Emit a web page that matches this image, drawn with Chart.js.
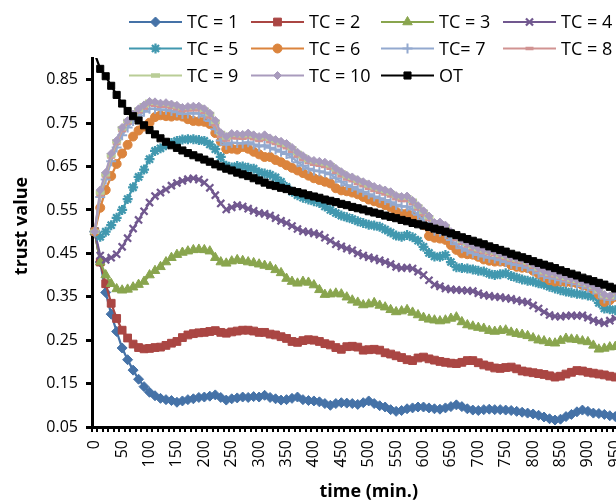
<!DOCTYPE html>
<html>
<head>
<meta charset="utf-8">
<script src="https://cdn.jsdelivr.net/npm/chart.js@4.4.1/dist/chart.umd.min.js"></script>
<style>
  html, body { margin: 0; padding: 0; background: #fff; }
  #wrap { width: 616px; height: 503px; overflow: hidden; position: relative; }
  canvas { display: block; }
</style>
</head>
<body>
<div id="wrap"><canvas id="trust" width="670" height="503"></canvas></div>
<script>
// time axis, one category every 10 min
const times = [
  0, 10, 20, 30, 40, 50, 60, 70, 80, 90,
  100, 110, 120, 130, 140, 150, 160, 170, 180, 190,
  200, 210, 220, 230, 240, 250, 260, 270, 280, 290,
  300, 310, 320, 330, 340, 350, 360, 370, 380, 390,
  400, 410, 420, 430, 440, 450, 460, 470, 480, 490,
  500, 510, 520, 530, 540, 550, 560, 570, 580, 590,
  600, 610, 620, 630, 640, 650, 660, 670, 680, 690,
  700, 710, 720, 730, 740, 750, 760, 770, 780, 790,
  800, 810, 820, 830, 840, 850, 860, 870, 880, 890,
  900, 910, 920, 930, 940, 950, 960, 970, 980, 990,
  1000
];
const yTicks = [0.05, 0.15, 0.25, 0.35, 0.45, 0.55, 0.65, 0.75, 0.85];

const tc1 = [
  0.50, 0.43, 0.36, 0.31, 0.27, 0.232, 0.205, 0.181, 0.16, 0.143,
  0.130, 0.122, 0.116, 0.113, 0.111, 0.107, 0.110, 0.113, 0.115, 0.118,
  0.119, 0.121, 0.124, 0.118, 0.112, 0.115, 0.117, 0.119, 0.118, 0.120,
  0.119, 0.123, 0.118, 0.115, 0.112, 0.113, 0.116, 0.119, 0.113, 0.111,
  0.110, 0.108, 0.104, 0.100, 0.104, 0.106, 0.105, 0.104, 0.102, 0.106,
  0.110, 0.104, 0.099, 0.096, 0.090, 0.086, 0.088, 0.092, 0.094, 0.096,
  0.096, 0.094, 0.092, 0.091, 0.094, 0.097, 0.101, 0.097, 0.092, 0.089,
  0.088, 0.090, 0.091, 0.090, 0.090, 0.089, 0.088, 0.086, 0.084, 0.082,
  0.080, 0.077, 0.073, 0.069, 0.066, 0.068, 0.074, 0.079, 0.085, 0.089,
  0.086, 0.082, 0.081, 0.079, 0.076, 0.074, 0.073, 0.075, 0.074, 0.072,
  0.071
];
const tc2 = [
  0.50, 0.43, 0.38, 0.335, 0.30, 0.273, 0.255, 0.241, 0.233, 0.230,
  0.231, 0.233, 0.234, 0.238, 0.243, 0.247, 0.256, 0.262, 0.265, 0.267,
  0.268, 0.270, 0.272, 0.268, 0.266, 0.269, 0.271, 0.273, 0.273, 0.271,
  0.268, 0.268, 0.264, 0.262, 0.258, 0.254, 0.247, 0.245, 0.249, 0.251,
  0.250, 0.247, 0.242, 0.239, 0.233, 0.229, 0.235, 0.236, 0.234, 0.227,
  0.228, 0.229, 0.227, 0.221, 0.218, 0.214, 0.210, 0.205, 0.203, 0.209,
  0.211, 0.207, 0.204, 0.201, 0.199, 0.197, 0.196, 0.199, 0.203, 0.203,
  0.198, 0.193, 0.190, 0.186, 0.185, 0.187, 0.188, 0.184, 0.179, 0.177,
  0.175, 0.173, 0.171, 0.168, 0.165, 0.167, 0.172, 0.176, 0.180, 0.179,
  0.176, 0.174, 0.172, 0.170, 0.167, 0.165, 0.164, 0.166, 0.165, 0.163,
  0.162
];
const tc3 = [
  0.50, 0.43, 0.40, 0.38, 0.368, 0.365, 0.367, 0.372, 0.378, 0.385,
  0.40, 0.41, 0.419, 0.43, 0.44, 0.447, 0.452, 0.455, 0.458, 0.459,
  0.458, 0.455, 0.440, 0.430, 0.427, 0.432, 0.435, 0.433, 0.430, 0.428,
  0.425, 0.422, 0.419, 0.412, 0.405, 0.392, 0.385, 0.381, 0.385, 0.383,
  0.377, 0.366, 0.355, 0.356, 0.358, 0.356, 0.349, 0.342, 0.337, 0.331,
  0.333, 0.336, 0.330, 0.326, 0.320, 0.315, 0.317, 0.320, 0.314, 0.308,
  0.302, 0.298, 0.296, 0.294, 0.296, 0.300, 0.303, 0.292, 0.285, 0.282,
  0.279, 0.277, 0.272, 0.270, 0.272, 0.273, 0.268, 0.265, 0.263, 0.260,
  0.255, 0.250, 0.248, 0.244, 0.243, 0.249, 0.254, 0.252, 0.251, 0.248,
  0.246, 0.238, 0.229, 0.231, 0.234, 0.235, 0.236, 0.238, 0.236, 0.235,
  0.234
];
const tc4 = [
  0.50, 0.445, 0.435, 0.44, 0.448, 0.465, 0.485, 0.507, 0.527, 0.547,
  0.567, 0.582, 0.590, 0.597, 0.606, 0.612, 0.617, 0.621, 0.623, 0.620,
  0.613, 0.601, 0.584, 0.565, 0.551, 0.556, 0.561, 0.558, 0.553, 0.548,
  0.543, 0.541, 0.537, 0.531, 0.525, 0.520, 0.513, 0.506, 0.501, 0.499,
  0.496, 0.493, 0.486, 0.479, 0.471, 0.466, 0.461, 0.457, 0.450, 0.445,
  0.441, 0.438, 0.434, 0.430, 0.425, 0.419, 0.416, 0.417, 0.415, 0.408,
  0.400, 0.388, 0.378, 0.374, 0.369, 0.367, 0.366, 0.365, 0.364, 0.363,
  0.358, 0.354, 0.352, 0.350, 0.349, 0.347, 0.345, 0.342, 0.339, 0.337,
  0.330, 0.323, 0.315, 0.308, 0.305, 0.304, 0.306, 0.307, 0.306, 0.307,
  0.302, 0.296, 0.292, 0.289, 0.295, 0.300, 0.298, 0.296, 0.297, 0.295,
  0.294
];
const tc5 = [
  0.50, 0.488, 0.50, 0.515, 0.532, 0.55, 0.575, 0.602, 0.626, 0.643,
  0.667, 0.686, 0.692, 0.699, 0.704, 0.709, 0.712, 0.713, 0.713, 0.711,
  0.709, 0.701, 0.690, 0.672, 0.652, 0.648, 0.651, 0.650, 0.647, 0.645,
  0.637, 0.634, 0.631, 0.625, 0.615, 0.603, 0.592, 0.584, 0.578, 0.574,
  0.570, 0.566, 0.558, 0.550, 0.543, 0.537, 0.533, 0.529, 0.524, 0.520,
  0.516, 0.514, 0.511, 0.505, 0.498, 0.491, 0.488, 0.492, 0.487, 0.479,
  0.465, 0.451, 0.443, 0.442, 0.446, 0.430, 0.418, 0.416, 0.415, 0.413,
  0.410, 0.408, 0.403, 0.400, 0.402, 0.404, 0.398, 0.394, 0.390, 0.387,
  0.385, 0.381, 0.378, 0.373, 0.369, 0.365, 0.362, 0.359, 0.357, 0.355,
  0.353, 0.350, 0.336, 0.323, 0.321, 0.319, 0.320, 0.322, 0.320, 0.318,
  0.317
];
const tc6 = [
  0.50, 0.555, 0.596, 0.628, 0.656, 0.680, 0.700, 0.719, 0.733, 0.742,
  0.751, 0.764, 0.768, 0.766, 0.765, 0.767, 0.765, 0.759, 0.755, 0.754,
  0.753, 0.748, 0.727, 0.708, 0.690, 0.691, 0.689, 0.695, 0.691, 0.684,
  0.678, 0.672, 0.672, 0.665, 0.660, 0.653, 0.647, 0.641, 0.635, 0.629,
  0.623, 0.619, 0.615, 0.611, 0.600, 0.595, 0.593, 0.590, 0.586, 0.580,
  0.574, 0.570, 0.566, 0.561, 0.556, 0.546, 0.541, 0.542, 0.537, 0.533,
  0.515, 0.490, 0.486, 0.484, 0.481, 0.469, 0.458, 0.450, 0.448, 0.447,
  0.442, 0.436, 0.433, 0.431, 0.431, 0.430, 0.423, 0.419, 0.417, 0.416,
  0.410, 0.403, 0.395, 0.388, 0.385, 0.385, 0.384, 0.383, 0.381, 0.377,
  0.374, 0.367, 0.355, 0.338, 0.342, 0.350, 0.348, 0.346, 0.345, 0.343,
  0.342
];
const tc7 = [
  0.50, 0.580, 0.620, 0.662, 0.694, 0.722, 0.740, 0.755, 0.767, 0.776,
  0.783, 0.783, 0.781, 0.781, 0.778, 0.775, 0.771, 0.772, 0.773, 0.772,
  0.766, 0.755, 0.736, 0.710, 0.700, 0.705, 0.704, 0.703, 0.706, 0.701,
  0.696, 0.699, 0.693, 0.689, 0.684, 0.679, 0.671, 0.660, 0.652, 0.645,
  0.641, 0.639, 0.636, 0.632, 0.623, 0.615, 0.607, 0.603, 0.597, 0.592,
  0.586, 0.581, 0.577, 0.573, 0.568, 0.562, 0.558, 0.558, 0.551, 0.539,
  0.526, 0.513, 0.502, 0.500, 0.494, 0.481, 0.471, 0.462, 0.456, 0.450,
  0.446, 0.443, 0.440, 0.438, 0.434, 0.430, 0.426, 0.423, 0.421, 0.417,
  0.411, 0.404, 0.397, 0.393, 0.392, 0.388, 0.385, 0.382, 0.379, 0.375,
  0.371, 0.366, 0.358, 0.346, 0.343, 0.354, 0.352, 0.350, 0.349, 0.347,
  0.346
];
const tc8 = [
  0.50, 0.585, 0.628, 0.672, 0.703, 0.733, 0.750, 0.764, 0.776, 0.785,
  0.793, 0.791, 0.789, 0.789, 0.786, 0.783, 0.779, 0.780, 0.781, 0.781,
  0.775, 0.764, 0.746, 0.720, 0.711, 0.717, 0.716, 0.715, 0.718, 0.714,
  0.710, 0.713, 0.707, 0.703, 0.698, 0.693, 0.685, 0.674, 0.666, 0.659,
  0.655, 0.653, 0.650, 0.646, 0.637, 0.629, 0.621, 0.617, 0.611, 0.606,
  0.600, 0.595, 0.591, 0.587, 0.582, 0.576, 0.572, 0.572, 0.565, 0.552,
  0.540, 0.528, 0.514, 0.513, 0.506, 0.492, 0.482, 0.473, 0.467, 0.460,
  0.455, 0.452, 0.449, 0.447, 0.442, 0.438, 0.434, 0.431, 0.429, 0.424,
  0.418, 0.411, 0.403, 0.399, 0.398, 0.393, 0.390, 0.386, 0.383, 0.379,
  0.375, 0.370, 0.361, 0.350, 0.347, 0.358, 0.356, 0.354, 0.353, 0.351,
  0.350
];
const tc9 = [
  0.50, 0.590, 0.632, 0.676, 0.708, 0.738, 0.755, 0.769, 0.781, 0.791,
  0.799, 0.797, 0.795, 0.795, 0.793, 0.789, 0.786, 0.786, 0.788, 0.787,
  0.781, 0.771, 0.753, 0.727, 0.717, 0.724, 0.723, 0.722, 0.725, 0.721,
  0.717, 0.720, 0.714, 0.710, 0.705, 0.700, 0.692, 0.681, 0.673, 0.665,
  0.662, 0.660, 0.657, 0.653, 0.644, 0.636, 0.628, 0.624, 0.618, 0.613,
  0.607, 0.602, 0.598, 0.594, 0.589, 0.583, 0.579, 0.579, 0.571, 0.558,
  0.546, 0.533, 0.520, 0.519, 0.512, 0.498, 0.488, 0.479, 0.472, 0.465,
  0.460, 0.457, 0.454, 0.452, 0.447, 0.443, 0.439, 0.436, 0.434, 0.429,
  0.423, 0.415, 0.407, 0.403, 0.402, 0.397, 0.394, 0.390, 0.387, 0.382,
  0.378, 0.373, 0.364, 0.353, 0.350, 0.361, 0.359, 0.357, 0.356, 0.354,
  0.353
];
const tc10 = [
  0.50, 0.596, 0.636, 0.680, 0.710, 0.740, 0.756, 0.771, 0.783, 0.792,
  0.800, 0.799, 0.796, 0.797, 0.794, 0.791, 0.786, 0.788, 0.789, 0.789,
  0.783, 0.773, 0.756, 0.728, 0.719, 0.726, 0.725, 0.724, 0.727, 0.723,
  0.719, 0.723, 0.716, 0.712, 0.708, 0.703, 0.694, 0.683, 0.675, 0.667,
  0.664, 0.662, 0.660, 0.656, 0.646, 0.638, 0.630, 0.626, 0.620, 0.615,
  0.610, 0.604, 0.600, 0.596, 0.592, 0.583, 0.581, 0.582, 0.572, 0.560,
  0.548, 0.536, 0.521, 0.522, 0.515, 0.500, 0.490, 0.481, 0.474, 0.467,
  0.462, 0.459, 0.456, 0.454, 0.449, 0.445, 0.441, 0.438, 0.436, 0.431,
  0.425, 0.417, 0.409, 0.405, 0.404, 0.399, 0.396, 0.392, 0.389, 0.384,
  0.380, 0.375, 0.366, 0.355, 0.352, 0.364, 0.360, 0.358, 0.357, 0.355,
  0.354
];
const ot = [
  0.91, 0.875, 0.858, 0.836, 0.815, 0.795, 0.778, 0.766, 0.756, 0.745,
  0.734, 0.724, 0.715, 0.707, 0.699, 0.693, 0.687, 0.681, 0.676, 0.671,
  0.666, 0.661, 0.655, 0.650, 0.645, 0.641, 0.636, 0.632, 0.628, 0.623,
  0.618, 0.613, 0.608, 0.605, 0.601, 0.598, 0.594, 0.591, 0.588, 0.584,
  0.581, 0.578, 0.574, 0.571, 0.568, 0.564, 0.561, 0.557, 0.554, 0.551,
  0.547, 0.544, 0.541, 0.537, 0.534, 0.531, 0.527, 0.524, 0.520, 0.517,
  0.514, 0.511, 0.507, 0.504, 0.500, 0.496, 0.492, 0.487, 0.483, 0.479,
  0.475, 0.471, 0.466, 0.462, 0.458, 0.454, 0.449, 0.445, 0.441, 0.437,
  0.432, 0.428, 0.424, 0.420, 0.416, 0.411, 0.407, 0.403, 0.399, 0.394,
  0.390, 0.386, 0.382, 0.378, 0.373, 0.369, 0.365, 0.361, 0.357, 0.353,
  0.349
];

const FONT = "'Open Sans', 'Noto Sans', sans-serif";

function series(label, data, color, style, radius, bw) {
  return {
    label, data,
    borderColor: color, backgroundColor: color,
    pointBorderColor: color, pointBackgroundColor: color,
    borderWidth: 2.25,
    pointStyle: style, pointRadius: radius, pointBorderWidth: bw,
    tension: 0,
  };
}

const datasets = [
  series('TC = 1', tc1, '#4572A7', 'rectRot', 5, 1),
  series('TC = 2', tc2, '#AA4643', 'rect', 5.5, 1),
  series('TC = 3', tc3, '#89A54E', 'triangle', 5.5, 1),
  series('TC = 4', tc4, '#71588F', 'crossRot', 5, 2.25),
  series('TC = 5', tc5, '#4198AF', 'star', 5, 2.25),
  series('TC = 6', tc6, '#DB843D', 'circle', 4.5, 1),
  series('TC= 7', tc7, '#93A9CF', 'cross', 5, 2),
  series('TC = 8', tc8, '#D19392', 'line', 4, 3.5),
  series('TC = 9', tc9, '#B9CD96', 'line', 4.5, 4.5),
  series('TC = 10', tc10, '#A99BBD', 'rectRot', 4, 1),
  series('OT', ot, '#000000', 'rect', 5, 1),
];
// later series are drawn on top, like the original
datasets.forEach((d, i) => { d.order = -i; });

// legend in fixed columns over the top of the plot, and the y title
const legendCols = [129, 251, 381, 503];
const legendRows = [22, 48.5, 75.5];
const gridLegend = {
  id: 'gridLegend',
  afterDraw(chart) {
    const ctx = chart.ctx;
    ctx.save();
    chart.data.datasets.forEach((ds, i) => {
      const x = legendCols[i % 4];
      const y = legendRows[Math.floor(i / 4)];
      ctx.strokeStyle = ds.borderColor;
      ctx.fillStyle = ds.borderColor;
      ctx.lineWidth = 2;
      ctx.beginPath();
      ctx.moveTo(x, y);
      ctx.lineTo(x + 53, y);
      ctx.stroke();
      ctx.lineWidth = ds.pointBorderWidth;
      Chart.helpers.drawPoint(ctx, {
        pointStyle: ds.pointStyle, radius: ds.pointRadius,
        borderWidth: ds.pointBorderWidth, rotation: 0,
      }, x + 26.5, y);
      ctx.fillStyle = '#000';
      ctx.font = '18px ' + FONT;
      ctx.textBaseline = 'middle';
      ctx.textAlign = 'left';
      ctx.fillText(ds.label, x + 58, y + 1);
    });
    ctx.translate(22, 226);
    ctx.rotate(-Math.PI / 2);
    ctx.fillStyle = '#000';
    ctx.font = 'bold 18px ' + FONT;
    ctx.textAlign = 'center';
    ctx.textBaseline = 'middle';
    ctx.fillText('trust value', 0, 0);
    ctx.restore();
  }
};

new Chart(document.getElementById('trust'), {
  type: 'line',
  data: { labels: times, datasets },
  plugins: [gridLegend],
  options: {
    responsive: false,
    animation: false,
    layout: { padding: { left: 0, right: 22.5, top: 58, bottom: 0 } },
    plugins: { legend: { display: false }, tooltip: { enabled: false } },
    scales: {
      x: {
        type: 'category',
        offset: true,
        afterFit(scale) { scale.height = 76; },
        border: { display: true, color: '#000', width: 3 },
        grid: { display: true, offset: true, drawOnChartArea: false, drawTicks: true, tickLength: 5, color: '#000', lineWidth: 2 },
        ticks: {
          autoSkip: false, maxRotation: 90, minRotation: 90, padding: 8,
          color: '#000', font: { family: FONT, size: 16 },
          callback: (v, i) => (times[i] % 50 === 0 ? String(times[i]) : ''),
        },
        title: { display: true, text: 'time (min.)', color: '#000', padding: { top: 0, bottom: 0 }, font: { family: FONT, size: 18, weight: 'bold' } },
      },
      y: {
        type: 'linear',
        min: 0.05, max: 0.9,
        afterFit(scale) { scale.width = 92; },
        afterBuildTicks(scale) { scale.ticks = yTicks.map(v => ({ value: v })); },
        border: { display: true, color: '#000', width: 3 },
        grid: { display: true, drawOnChartArea: false, drawTicks: true, tickLength: 6, color: '#000', lineWidth: 3 },
        ticks: {
          padding: 8, color: '#000', font: { family: FONT, size: 16 },
          callback: v => v.toFixed(2),
        },
        title: { display: false },
      },
    },
  },
});
</script>
</body>
</html>
